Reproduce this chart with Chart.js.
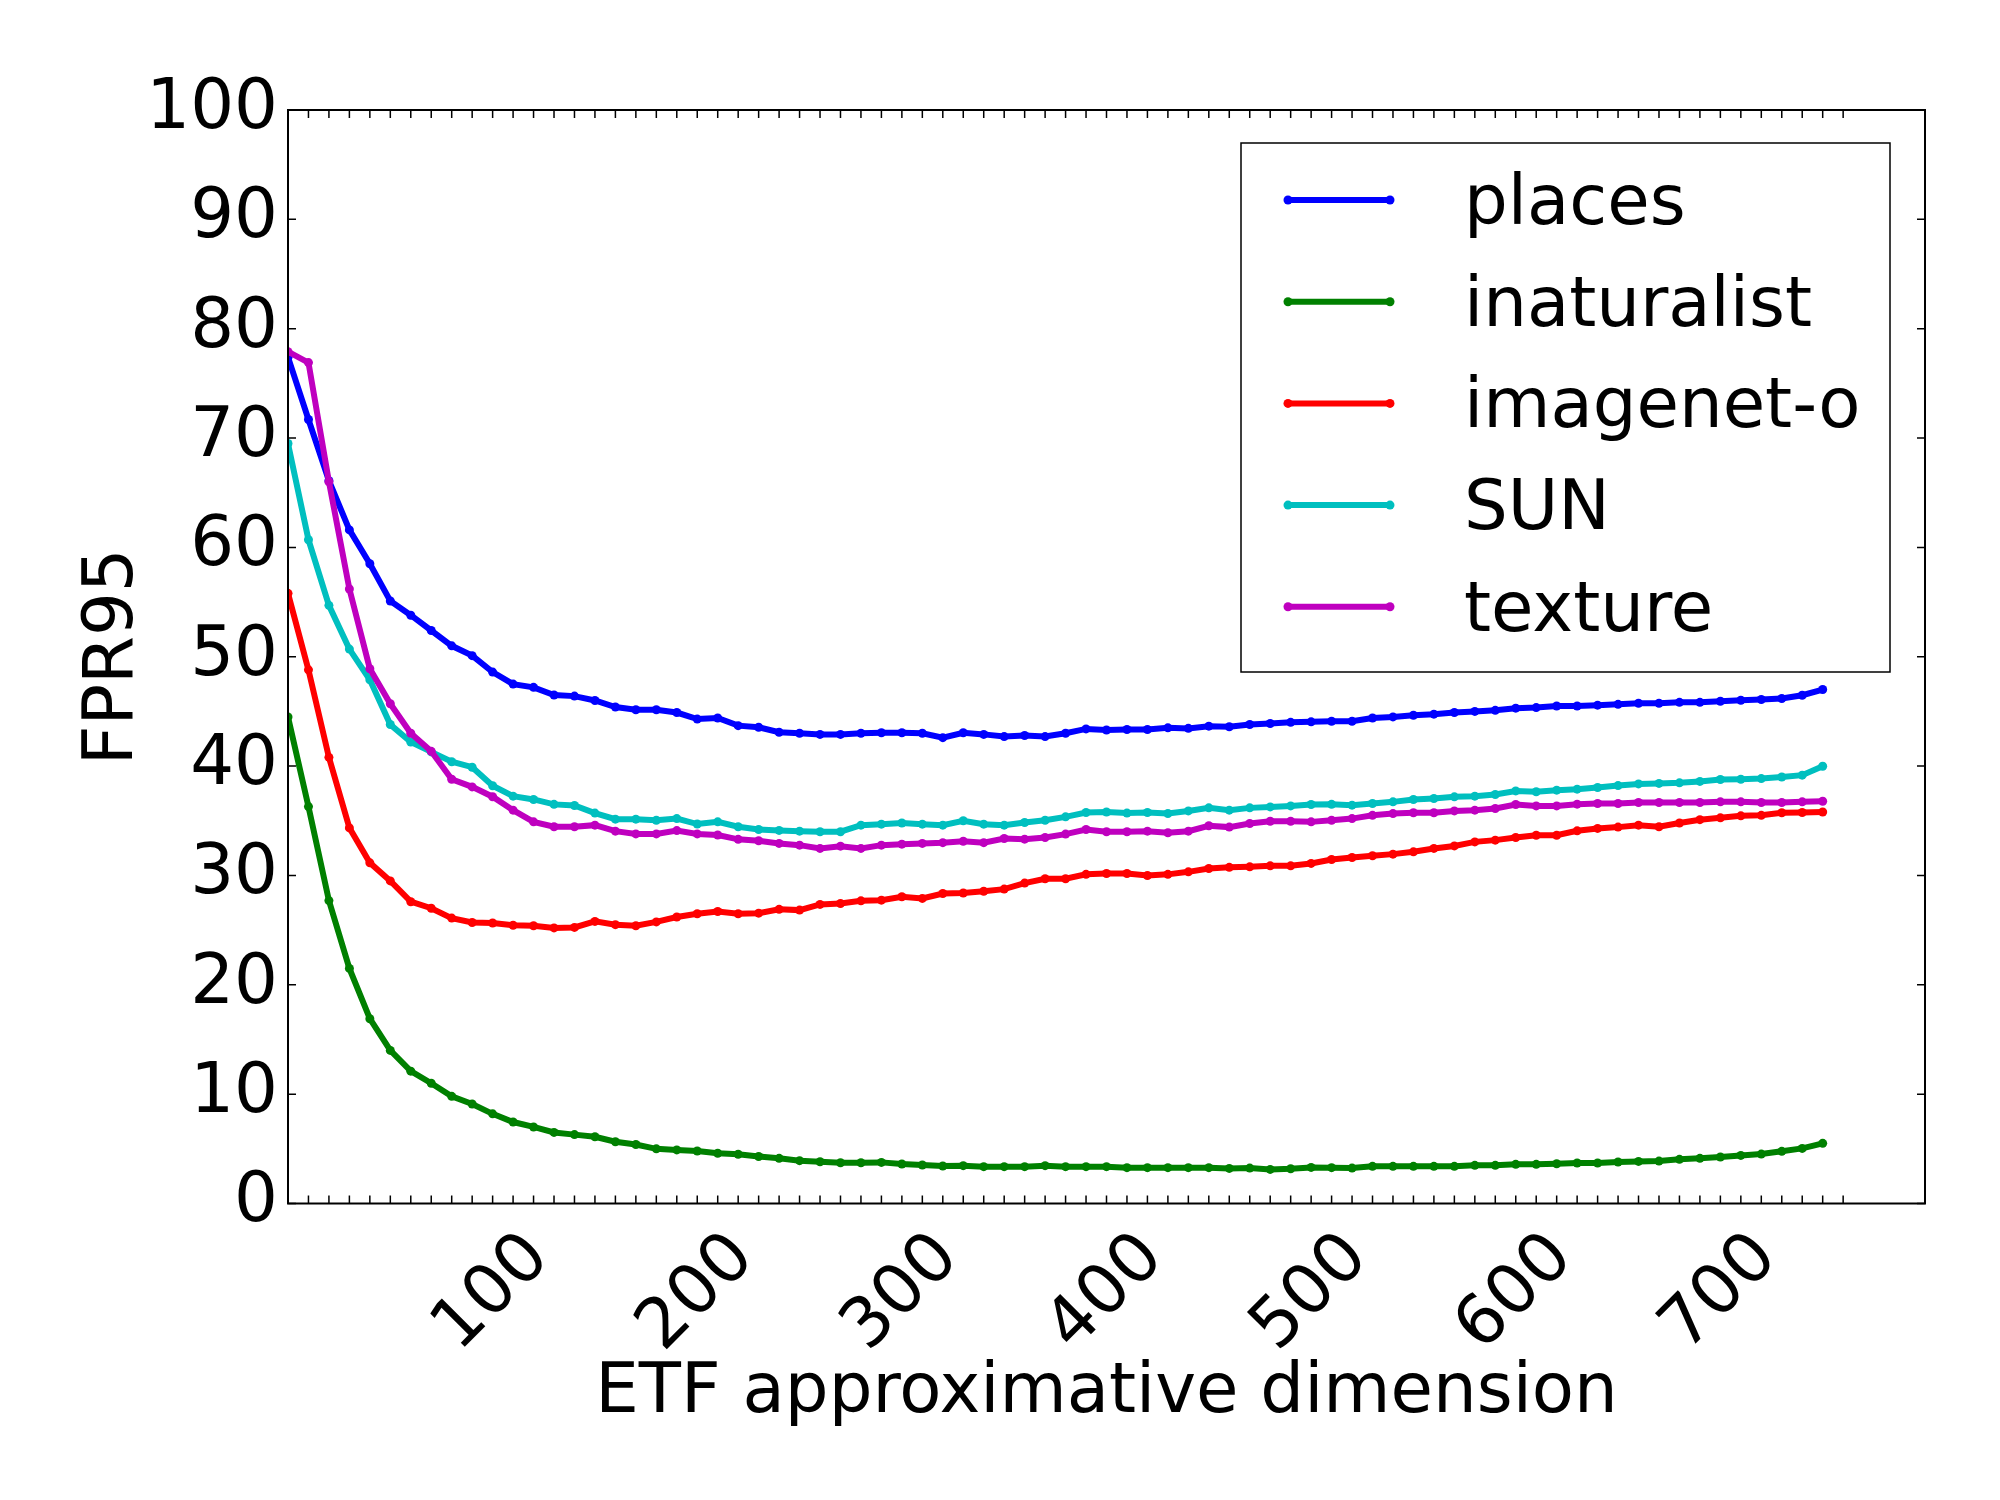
<!doctype html>
<html lang="en">
  <head>
    <meta charset="UTF-8">
    <title>FPR95 vs ETF approximative dimension</title>
    <style>
      html, body { margin: 0; padding: 0; background: #ffffff; }
    </style>
  </head>
  <body>
    <canvas id="myChart" width="2000" height="1500"></canvas>
    <script src="https://cdn.jsdelivr.net/npm/chart.js@4.4.1/dist/chart.umd.min.js"></script>
    <script>
    // Data-----
    const dims = [
      0, 10, 20, 30, 40, 50, 60, 70, 80, 90,
      100, 110, 120, 130, 140, 150, 160, 170, 180, 190,
      200, 210, 220, 230, 240, 250, 260, 270, 280, 290,
      300, 310, 320, 330, 340, 350, 360, 370, 380, 390,
      400, 410, 420, 430, 440, 450, 460, 470, 480, 490,
      500, 510, 520, 530, 540, 550, 560, 570, 580, 590,
      600, 610, 620, 630, 640, 650, 660, 670, 680, 690,
      700, 710, 720, 730, 740, 750
    ];
    const places = [
      77.4, 71.7, 66.1, 61.6, 58.5, 55.1, 53.8, 52.4, 51.0, 50.1,
      48.6, 47.5, 47.2, 46.5, 46.4, 46.0, 45.4, 45.15, 45.15, 44.9,
      44.3, 44.4, 43.7, 43.55, 43.1, 43.0, 42.9, 42.9, 43.0, 43.05,
      43.05, 43.0, 42.6, 43.05, 42.9, 42.7, 42.8, 42.7, 43.0, 43.4,
      43.3, 43.35, 43.35, 43.5, 43.45, 43.65, 43.6, 43.8, 43.9, 44.0,
      44.05, 44.1, 44.1, 44.4, 44.5, 44.65, 44.75, 44.9, 45.0, 45.1,
      45.3, 45.35, 45.5, 45.5, 45.57, 45.65, 45.75, 45.75, 45.83, 45.83,
      45.93, 46.02, 46.09, 46.18, 46.48, 47.0
    ];
    const inaturalist = [
      44.5, 36.3, 27.7, 21.5, 16.9, 14.0, 12.1, 11.0, 9.8, 9.1,
      8.2, 7.45, 7.0, 6.5, 6.3, 6.1, 5.65, 5.4, 5.0, 4.9,
      4.8, 4.6, 4.5, 4.3, 4.13, 3.92, 3.82, 3.73, 3.73, 3.76,
      3.61, 3.52, 3.43, 3.46, 3.37, 3.37, 3.37, 3.46, 3.37, 3.37,
      3.37, 3.28, 3.28, 3.28, 3.28, 3.28, 3.21, 3.24, 3.12, 3.18,
      3.3, 3.28, 3.24, 3.4, 3.4, 3.4, 3.4, 3.4, 3.49, 3.49,
      3.58, 3.58, 3.64, 3.7, 3.7, 3.79, 3.85, 3.88, 4.04, 4.13,
      4.25, 4.4, 4.52, 4.77, 5.04, 5.5
    ];
    const imagenetO = [
      55.8, 48.8, 40.8, 34.35, 31.15, 29.5, 27.6, 27.0, 26.1, 25.7,
      25.65, 25.45, 25.4, 25.2, 25.25, 25.8, 25.5, 25.4, 25.75, 26.2,
      26.5, 26.7, 26.5, 26.55, 26.9, 26.83, 27.35, 27.44, 27.68, 27.74,
      28.05, 27.9, 28.35, 28.4, 28.56, 28.75, 29.3, 29.7, 29.7, 30.1,
      30.18, 30.18, 30.0, 30.1, 30.33, 30.64, 30.74, 30.79, 30.88, 30.88,
      31.1, 31.46, 31.64, 31.8, 31.95, 32.16, 32.47, 32.7, 33.07, 33.23,
      33.47, 33.68, 33.68, 34.08, 34.3, 34.42, 34.6, 34.45, 34.8, 35.1,
      35.27, 35.45, 35.5, 35.73, 35.76, 35.8
    ];
    const sun = [
      69.5, 60.7, 54.7, 50.7, 47.9, 43.8, 42.2, 41.3, 40.4, 39.9,
      38.2, 37.25, 36.95, 36.5, 36.4, 35.7, 35.15, 35.15, 35.05, 35.2,
      34.7, 34.9, 34.45, 34.2, 34.12, 34.05, 34.0, 34.0, 34.6, 34.69,
      34.8, 34.69, 34.6, 35.0, 34.69, 34.6, 34.84, 35.05, 35.36, 35.76,
      35.8, 35.7, 35.76, 35.67, 35.9, 36.18, 35.97, 36.18, 36.27, 36.36,
      36.49, 36.5, 36.43, 36.58, 36.73, 36.95, 37.04, 37.19, 37.25, 37.4,
      37.73, 37.65, 37.8, 37.89, 38.04, 38.22, 38.37, 38.42, 38.47, 38.6,
      38.77, 38.8, 38.86, 39.0, 39.17, 39.99
    ];
    const texture = [
      77.9, 76.9, 66.0, 56.2, 48.9, 45.7, 43.0, 41.35, 38.8, 38.1,
      37.2, 35.97, 34.9, 34.45, 34.45, 34.6, 34.05, 33.8, 33.8, 34.1,
      33.8, 33.7, 33.3, 33.17, 32.93, 32.77, 32.47, 32.68, 32.47, 32.77,
      32.86, 32.93, 33.0, 33.13, 33.0, 33.38, 33.32, 33.47, 33.78, 34.2,
      34.0, 34.0, 34.05, 33.9, 34.05, 34.54, 34.42, 34.75, 34.96, 34.96,
      34.9, 35.05, 35.2, 35.5, 35.66, 35.73, 35.73, 35.9, 35.97, 36.12,
      36.49, 36.36, 36.36, 36.52, 36.58, 36.58, 36.67, 36.67, 36.67, 36.67,
      36.73, 36.73, 36.67, 36.67, 36.73, 36.79
    ];
    const xTickLabels = [100, 200, 300, 400, 500, 600, 700];
    const xMinorTicks = [
      0, 10, 20, 30, 40, 50, 60, 70, 80, 90,
      100, 110, 120, 130, 140, 150, 160, 170, 180, 190,
      200, 210, 220, 230, 240, 250, 260, 270, 280, 290,
      300, 310, 320, 330, 340, 350, 360, 370, 380, 390,
      400, 410, 420, 430, 440, 450, 460, 470, 480, 490,
      500, 510, 520, 530, 540, 550, 560, 570, 580, 590,
      600, 610, 620, 630, 640, 650, 660, 670, 680, 690,
      700, 710, 720, 730, 740, 750, 760
    ];
    const yTicks = [0, 10, 20, 30, 40, 50, 60, 70, 80, 90, 100];
    // Data-----

    const FONT = 'DejaVu Sans';
    const FS = 69;

    const series = [
      {label: 'places', color: '#0000ff', values: places},
      {label: 'inaturalist', color: '#008000', values: inaturalist},
      {label: 'imagenet-o', color: '#ff0000', values: imagenetO},
      {label: 'SUN', color: '#00bfbf', values: sun},
      {label: 'texture', color: '#bf00bf', values: texture}
    ];

    // frame, inward ticks, rotated x labels and the boxed legend
    const decorations = {
      id: 'decorations',
      afterDraw(chart) {
        const {ctx, chartArea: ca, scales: {x, y}} = chart;
        const tl = 8;
        ctx.save();
        ctx.strokeStyle = '#000000';
        ctx.lineWidth = 1.5;
        ctx.beginPath();
        xMinorTicks.forEach(v => {
          const px = x.getPixelForValue(v);
          ctx.moveTo(px, ca.bottom); ctx.lineTo(px, ca.bottom - tl);
          ctx.moveTo(px, ca.top); ctx.lineTo(px, ca.top + tl);
        });
        yTicks.forEach(v => {
          const py = y.getPixelForValue(v);
          ctx.moveTo(ca.left, py); ctx.lineTo(ca.left + tl, py);
          ctx.moveTo(ca.right, py); ctx.lineTo(ca.right - tl, py);
        });
        ctx.stroke();

        ctx.lineWidth = 2;
        ctx.strokeRect(ca.left, ca.top, ca.right - ca.left, ca.bottom - ca.top);

        // x tick labels, rotated 45 degrees and centred on the tick
        ctx.fillStyle = '#000000';
        ctx.font = FS + 'px "' + FONT + '"';
        ctx.textAlign = 'center';
        ctx.textBaseline = 'middle';
        xTickLabels.forEach(v => {
          ctx.save();
          ctx.translate(x.getPixelForValue(v), ca.bottom + 90);
          ctx.rotate(-Math.PI / 4);
          ctx.fillText(String(v), 0, 0);
          ctx.restore();
        });

        // legend
        const bw = 649, bh = 529;
        const bx = ca.right - 684, by = ca.top + 33;
        ctx.fillStyle = '#ffffff';
        ctx.fillRect(bx, by, bw, bh);
        ctx.lineWidth = 1.5;
        ctx.strokeStyle = '#000000';
        ctx.strokeRect(bx, by, bw, bh);
        series.forEach((s, k) => {
          const ly = by + 57 + k * 101.7;
          ctx.strokeStyle = s.color;
          ctx.lineWidth = 6;
          ctx.lineCap = 'butt';
          ctx.beginPath();
          ctx.moveTo(bx + 47, ly);
          ctx.lineTo(bx + 149, ly);
          ctx.stroke();
          ctx.fillStyle = s.color;
          [bx + 47, bx + 149].forEach(px => {
            ctx.beginPath();
            ctx.arc(px, ly, 4.5, 0, Math.PI * 2);
            ctx.fill();
          });
          ctx.fillStyle = '#000000';
          ctx.textAlign = 'left';
          ctx.textBaseline = 'middle';
          ctx.fillText(s.label, bx + 223, ly + 6);
        });
        ctx.restore();
      }
    };

    const config = {
      type: 'line',
      data: {
        datasets: series.map((s, k) => ({
          label: s.label,
          data: s.values.map((v, i) => ({x: dims[i], y: v})),
          borderColor: s.color,
          backgroundColor: s.color,
          pointBackgroundColor: s.color,
          pointBorderWidth: 0,
          borderWidth: 6,
          pointRadius: 4.5,
          tension: 0,
          fill: false,
          order: series.length - k
        }))
      },
      options: {
        responsive: false,
        devicePixelRatio: 1,
        animation: false,
        layout: {padding: {left: 0, right: 75, top: 110, bottom: 0}},
        plugins: {
          legend: {display: false},
          tooltip: {enabled: false}
        },
        scales: {
          x: {
            type: 'linear',
            min: 0,
            max: 800,
            grid: {display: false, drawTicks: false},
            border: {display: false},
            ticks: {display: false},
            title: {
              display: true,
              text: 'ETF approximative dimension',
              color: '#000000',
              font: {family: FONT, size: FS},
              padding: {top: 0, bottom: 65}
            },
            afterFit(scale) { scale.height = 296.5; }
          },
          y: {
            type: 'linear',
            min: 0,
            max: 100,
            grid: {display: false, drawTicks: false},
            border: {display: false},
            ticks: {
              stepSize: 10,
              color: '#000000',
              padding: 10,
              font: {family: FONT, size: FS}
            },
            title: {
              display: true,
              text: 'FPR95',
              color: '#000000',
              font: {family: FONT, size: FS},
              padding: {top: 73, bottom: 0}
            },
            afterFit(scale) { scale.width = 288; }
          }
        }
      },
      plugins: [decorations]
    };

    var myChart = new Chart(document.getElementById('myChart'), config);
    </script>
  </body>
</html>
